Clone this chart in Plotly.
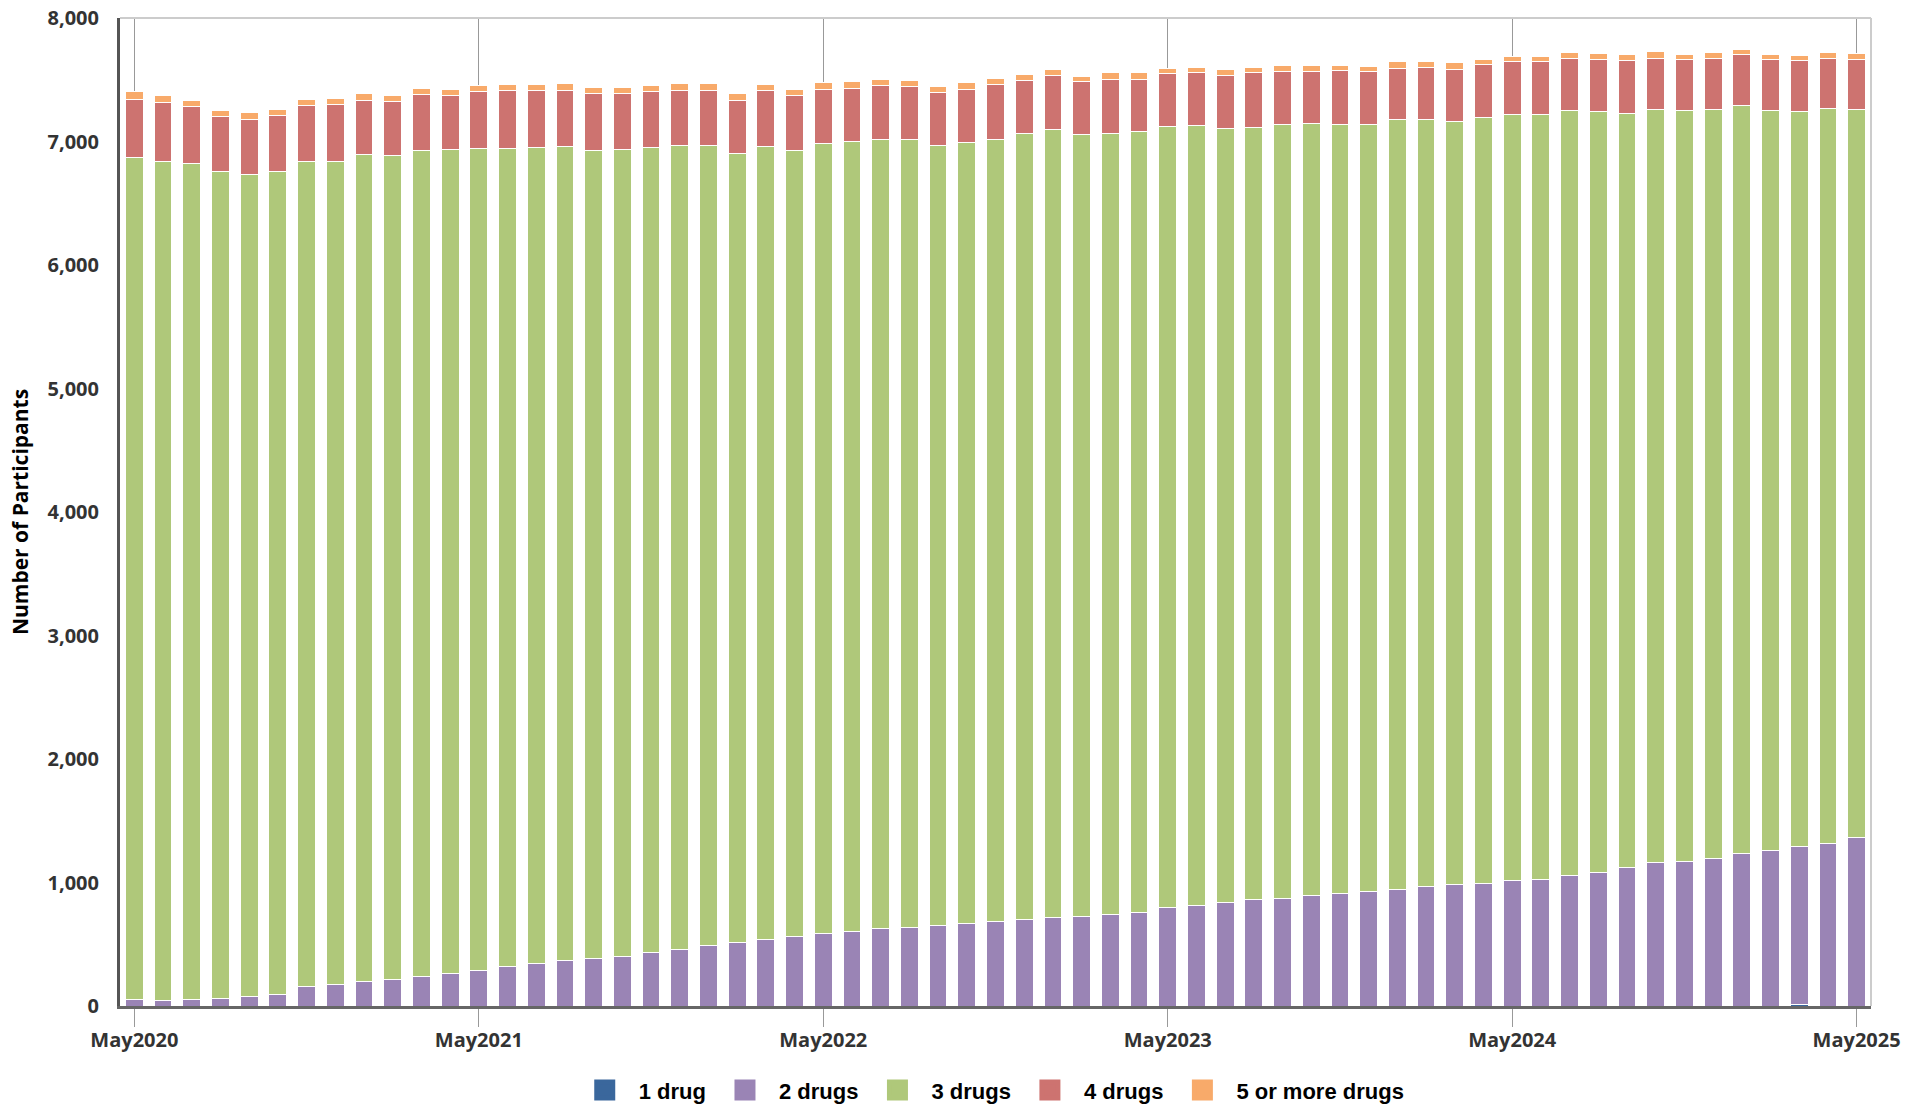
import pandas as pd
import plotly.graph_objects as go

months = list(pd.date_range("2020-05-01", "2025-05-01", freq="MS").strftime("%b%Y"))
tick_labels = ["May2020", "May2021", "May2022", "May2023", "May2024", "May2025"]

one_drug = [0] * 58 + [12, 0, 0]

two_drugs = [53, 45, 53, 61, 80, 93, 160, 177, 201, 217, 241, 266, 290, 322, 347, 371,
             387, 403, 435, 460, 492, 516, 541, 565, 589, 605, 630, 638, 654, 670, 686,
             703, 719, 727, 743, 759, 800, 816, 840, 864, 872, 897, 913, 929, 945, 970,
             986, 994, 1018, 1026, 1059, 1083, 1123, 1164, 1172, 1196, 1237, 1261, 1281,
             1318, 1366]

three_drugs = [6819, 6795, 6771, 6693, 6652, 6666, 6680, 6663, 6693, 6672, 6685, 6666,
               6655, 6623, 6606, 6588, 6542, 6534, 6515, 6507, 6475, 6389, 6418, 6361,
               6397, 6394, 6383, 6377, 6313, 6324, 6332, 6361, 6380, 6332, 6324, 6321,
               6323, 6310, 6264, 6251, 6268, 6248, 6227, 6211, 6232, 6207, 6175, 6199,
               6199, 6191, 6191, 6158, 6102, 6094, 6078, 6062, 6053, 5989, 5948, 5948,
               5892]

four_drugs = [472, 472, 456, 445, 443, 448, 448, 456, 442, 431, 451, 437, 456, 464, 456,
              458, 456, 448, 451, 450, 450, 431, 450, 443, 439, 434, 437, 427, 426, 431,
              440, 434, 432, 423, 439, 426, 424, 429, 427, 440, 423, 418, 431, 423, 418,
              426, 426, 427, 427, 427, 426, 427, 427, 418, 410, 418, 411, 410, 411, 410,
              410]

five_plus = [57, 57, 52, 56, 56, 56, 56, 50, 50, 55, 56, 50, 50, 50, 50, 50, 49, 49, 50,
             50, 50, 50, 50, 49, 50, 50, 49, 49, 50, 50, 49, 44, 48, 42, 49, 49, 42, 48,
             48, 48, 49, 49, 43, 42, 49, 43, 49, 48, 42, 48, 43, 43, 49, 49, 43, 43, 42,
             43, 42, 43, 43]

series = [
    ("1 drug", one_drug, "#3a679c"),
    ("2 drugs", two_drugs, "#9a84b5"),
    ("3 drugs", three_drugs, "#afc87a"),
    ("4 drugs", four_drugs, "#cd7370"),
    ("5 or more drugs", five_plus, "#f8aa6a"),
]

fig = go.Figure()
for name, vals, color in series:
    fig.add_trace(go.Bar(
        x=months, y=vals, name=name, showlegend=False, legendgroup=name,
        marker=dict(color=color, line=dict(color="white", width=1)),
    ))
# legend-only swatches (larger squares like the original legend)
for name, vals, color in series:
    fig.add_trace(go.Scatter(
        x=[None], y=[None], name=name, mode="markers", legendgroup=name,
        marker=dict(symbol="square", size=26, color=color,
                    line=dict(color=color, width=5)),
    ))

fig.update_layout(
    barmode="stack",
    bargap=0.38,
    width=1927, height=1109,
    margin=dict(l=120, r=56, t=18, b=103),
    plot_bgcolor="white", paper_bgcolor="white",
    legend=dict(
        orientation="h", x=0.497, xanchor="center",
        yref="container", y=0.017, yanchor="middle",
        font=dict(family="Liberation Sans", size=22, color="#000", weight="bold"),
        traceorder="normal", itemsizing="trace", itemwidth=58,
    ),
    shapes=[
        dict(type="line", xref="paper", yref="paper", x0=0, x1=1, y0=1, y1=1,
             line=dict(color="#cccccc", width=2)),
        dict(type="line", xref="paper", yref="paper", x0=1, x1=1, y0=0, y1=1,
             line=dict(color="#cccccc", width=2)),
    ],
)

fig.update_xaxes(
    type="category", automargin=False,
    tickvals=tick_labels, ticktext=tick_labels,
    showgrid=True, gridcolor="#999999", gridwidth=1,
    ticks="outside", ticklen=18, tickcolor="#999999", tickwidth=1,
    showline=True, linecolor="#666666", linewidth=3,
    tickfont=dict(family="Open Sans", size=20, color="#333333", weight="bold"),
    ticklabelstandoff=-4,
)

fig.update_yaxes(
    range=[0, 8000], automargin=False,
    tickvals=[0, 1000, 2000, 3000, 4000, 5000, 6000, 7000, 8000],
    tickformat=",",
    showgrid=False, zeroline=False,
    showline=True, linecolor="#555555", linewidth=3,
    ticks="", ticklabelstandoff=14,
    tickfont=dict(family="Open Sans", size=20, color="#333333", weight="bold"),
    title=dict(text="Number of Participants", standoff=14,
               font=dict(family="Open Sans", size=21, color="#000", weight="bold")),
)

fig.write_html("out.html", config={"displayModeBar": False},
               post_script="document.body.style.margin='0';")
